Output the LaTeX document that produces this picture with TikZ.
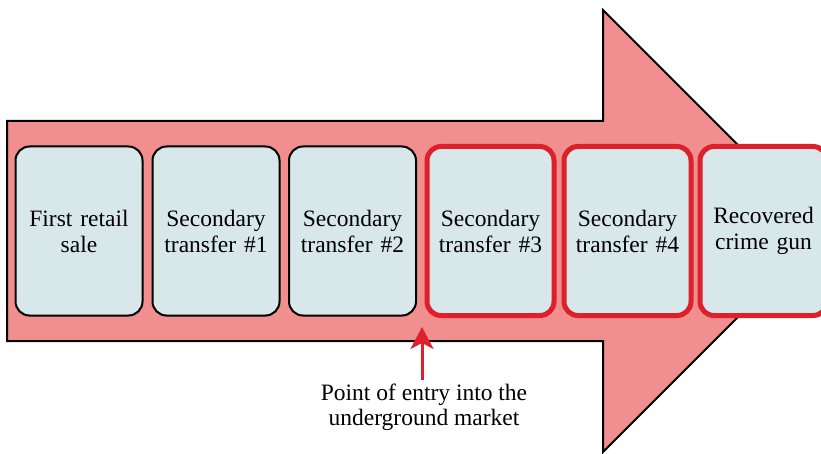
\documentclass[tikz,border=0pt]{standalone}
\usepackage{fontspec}
\setmainfont{Liberation Serif}
\usepackage{tikz}
\usetikzlibrary{arrows.meta}
\definecolor{arrowpink}{RGB}{241,142,142}
\definecolor{boxblue}{RGB}{216,232,234}
\definecolor{markred}{RGB}{221,32,42}
\tikzset{>=latex}
\tikzset{
  stage/.style={draw=black, line width=2pt, fill=boxblue, rounded corners=14pt,
    minimum width=127pt, minimum height=169pt, inner sep=0pt,
    text width=124pt, align=center, font=\fontsize{23.5}{26}\selectfont},
  market/.style={stage, draw=markred, line width=5pt},
  pointer/.style={draw=markred, line width=3pt, -{Stealth[length=22pt,width=23pt,inset=6pt]}}
}

\begin{document}
\begin{tikzpicture}[x=1pt,y=-1pt]
			\clip (0,0) rectangle (821,454);
			\fill[white] (0,0) rectangle (821,454);
			% big arrow behind the stages
			\draw[line width=2pt, fill=arrowpink, line join=miter] (7,121) -- (603,121) -- (603,10) -- (824,231)
				-- (603,452) -- (603,341) -- (7,341) -- cycle;
			
			\node[stage] (sale) at (79,231) {First retail\\sale};
			\node[stage] (first) at (216,231) {Secondary\\transfer \#1};
			\node[stage] (second) at (352.5,231) {Secondary\\transfer \#2};
			\node[market] (third) at (490.5,231) {Secondary\\transfer \#3};
			\node[market] (fourth) at (627.5,231) {Secondary\\transfer \#4};
			\node[market] (gun) at (763.5,231) {Recovered\\crime gun};
			
			\coordinate (entry) at (422,327);
			\node[align=center, font=\fontsize{23.5}{25}\selectfont] (note) at (424,407) {Point of entry into the\\underground market};
			\draw[pointer] (entry |- note.north) -- (entry);
		\end{tikzpicture}
\end{document}
